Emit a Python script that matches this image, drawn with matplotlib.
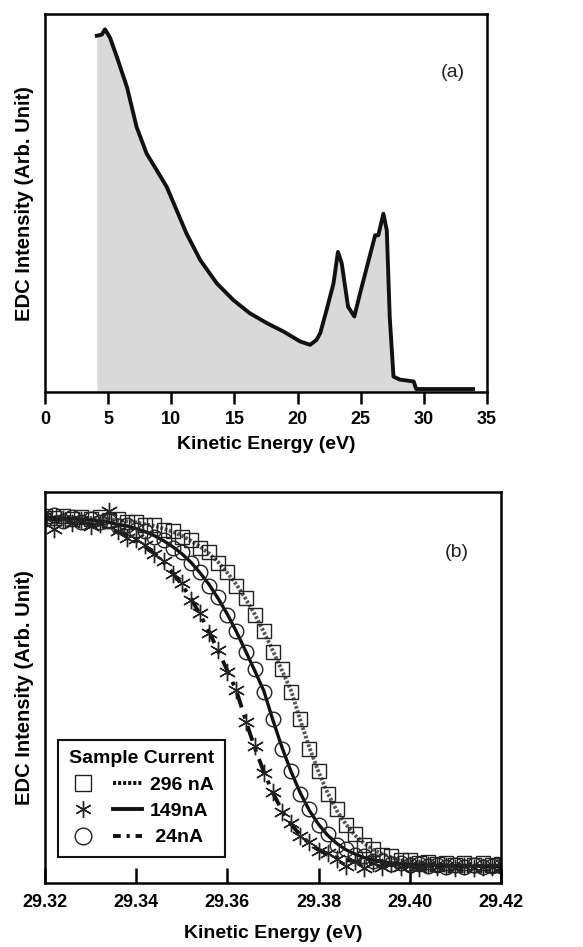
import numpy as np
import matplotlib.pyplot as plt
from matplotlib.lines import Line2D
from matplotlib.legend_handler import HandlerTuple

plt.rcParams['font.family'] = ['Liberation Sans', 'DejaVu Sans']

# ---- panel (a): full EDC spectrum ----
edc_energy = [4.1, 4.5, 4.75, 5.15, 5.7, 6.5, 7.26, 8.05, 8.85, 9.64, 10.43,
              11.2, 12.3, 13.6, 14.9, 16.2, 17.6, 18.9, 20.2, 21.0, 21.5,
              21.8, 22.3, 22.85, 23.2, 23.5, 24.0, 24.5, 24.95, 25.5, 26.15,
              26.4, 26.8, 27.07, 27.3, 27.6, 28.1, 29.2, 29.4, 33.9]
edc_intensity = [94.3, 94.6, 96.0, 93.8, 88.6, 80.6, 70.1, 63.1, 58.7, 54.3, 48.1,
                 42.0, 34.9, 28.8, 24.4, 20.9, 18.2, 16.0, 13.4, 12.5, 13.8,
                 15.6, 21.7, 28.8, 37.1, 34.1, 22.6, 20.0, 26.1, 33.2, 41.5,
                 41.5, 47.2, 42.8, 20.0, 4.1, 3.3, 2.8, 0.8, 0.8]

# ---- panel (b): Fermi edge for three sample currents ----
fermi_energy = [29.320 + 0.002 * i for i in range(51)]

sq_296 = [93.9, 93.2, 93.8, 93.1, 93.6, 93.0, 93.5, 92.8, 93.1, 92.2,
          92.4, 91.5, 91.6, 90.3, 89.9, 88.5, 87.8, 85.7, 84.5, 81.8,
          79.6, 76.0, 72.9, 68.4, 64.5, 59.0, 54.6, 48.8, 41.9, 34.3,
          28.7, 22.7, 18.8, 14.7, 12.4, 9.8, 8.7, 7.2, 6.8, 5.8,
          5.9, 5.0, 5.3, 4.8, 5.1, 4.6, 5.0, 4.7, 5.0, 4.6, 4.9]
fit_296 = [93.6, 93.6, 93.5, 93.4, 93.4, 93.3, 93.2, 93.0, 92.8, 92.5,
           92.2, 91.7, 91.3, 90.6, 89.8, 88.8, 87.5, 86.0, 84.2, 82.0,
           79.3, 76.3, 72.7, 68.7, 64.2, 59.3, 54.3, 49.1, 41.6, 34.6,
           28.4, 23.0, 18.5, 15.0, 12.2, 10.1, 8.5, 7.4, 6.5, 5.9,
           5.5, 5.1, 4.9, 4.7, 4.6, 4.5, 4.5, 4.4, 4.4, 4.4, 4.4]

star_149 = [93.9, 90.4, 93.0, 92.1, 92.9, 91.4, 91.8, 95.0, 90.0, 88.1,
            87.9, 86.3, 84.0, 82.3, 79.0, 76.6, 72.3, 69.0, 63.9, 59.6,
            54.0, 49.4, 41.2, 34.9, 28.1, 23.3, 18.2, 15.3, 11.9, 10.4,
            8.2, 7.6, 6.2, 4.3, 5.7, 3.9, 5.1, 4.2, 4.9, 4.0,
            4.6, 3.9, 4.5, 4.0, 4.4, 3.9, 4.3, 3.8, 4.2, 4.0, 4.1]
fit_149 = [93.2, 93.0, 92.8, 92.5, 92.2, 91.7, 91.3, 90.6, 89.8, 88.8,
           87.5, 86.0, 84.2, 82.0, 79.3, 76.3, 72.7, 68.7, 64.2, 59.3,
           54.3, 49.1, 41.6, 34.6, 28.4, 23.0, 18.5, 15.0, 12.2, 10.1,
           8.5, 7.4, 6.5, 5.9, 5.5, 5.1, 4.9, 4.7, 4.6, 4.5,
           4.5, 4.4, 4.4, 4.3, 4.3, 4.2, 4.2, 4.2, 4.2, 4.2, 4.2]

circ_24 = [93.1, 94.0, 92.6, 93.5, 92.4, 93.1, 92.2, 92.6, 91.4, 91.6,
           90.2, 90.1, 88.5, 87.8, 85.7, 84.5, 81.7, 79.6, 76.0, 73.0,
           68.4, 64.5, 59.0, 54.6, 48.8, 41.9, 34.3, 28.7, 22.7, 18.8,
           14.7, 12.4, 9.8, 8.7, 7.2, 6.8, 5.6, 5.7, 4.8, 5.1,
           4.5, 4.8, 4.3, 4.7, 4.2, 4.6, 4.2, 4.5, 4.2, 4.4, 4.3]
fit_24 = [93.4, 93.4, 93.3, 93.2, 93.0, 92.8, 92.5, 92.2, 91.7, 91.3,
          90.6, 89.8, 88.8, 87.5, 86.0, 84.2, 82.0, 79.3, 76.3, 72.7,
          68.7, 64.2, 59.3, 54.3, 49.1, 41.6, 34.6, 28.4, 23.0, 18.5,
          15.0, 12.2, 10.1, 8.5, 7.4, 6.5, 5.9, 5.5, 5.1, 4.9,
          4.7, 4.6, 4.5, 4.5, 4.4, 4.4, 4.4, 4.3, 4.3, 4.3, 4.3]

legend_labels = ['296 nA', '149nA', ' 24nA']

fig = plt.figure(figsize=(5.83, 9.47), dpi=100)
xbold = dict(fontsize=14, fontweight='bold')
ybold = dict(fontsize=14.5, fontweight='bold')

# panel (a)
ax1 = fig.add_axes([0.0772, 0.586, 0.758, 0.399])
ax1.fill_between(edc_energy, edc_intensity, 0, color='#d9d9d9', lw=0)
ax1.plot(edc_energy, edc_intensity, color='#111111', lw=2.8)
ax1.set_xlim(0, 35)
ax1.set_ylim(0, 100)
ax1.set_xticks(np.arange(0, 36, 5))
ax1.set_yticks([])
ax1.tick_params(axis='x', direction='out', length=8.5, width=1.8, labelsize=13, pad=5)
for lab in ax1.get_xticklabels():
    lab.set_fontweight('bold')
for s in ax1.spines.values():
    s.set_linewidth(1.8)
ax1.set_xlabel('Kinetic Energy (eV)', labelpad=6, **xbold)
ax1.set_ylabel('EDC Intensity (Arb. Unit)', labelpad=8, **ybold)
ax1.text(0.923, 0.845, '(a)', transform=ax1.transAxes, fontsize=14,
         ha='center', va='center', color='#222222')

# panel (b)
ax2 = fig.add_axes([0.0772, 0.0676, 0.782, 0.413])
mk = dict(mfc='none', mec='#222222', mew=1.0, ls='none')
ax2.plot(fermi_energy, fit_296, color='0.35', lw=2.8, ls=(0, (0.7, 0.45)))
ax2.plot(fermi_energy, fit_24, color='#111111', lw=2.4, ls='-')
ax2.plot(fermi_energy, fit_149, color='#111111', lw=2.8, ls=(0, (4, 2, 1, 2)))
ax2.plot(fermi_energy, sq_296, marker='s', ms=10, **mk)
ax2.plot(fermi_energy, circ_24, marker='o', ms=10.5, **mk)
ax2.plot(fermi_energy, star_149, marker=(6, 2, 0), ms=12.5, **mk)
ax2.set_xlim(29.32, 29.42)
ax2.set_ylim(0, 100)
ax2.set_xticks(np.arange(29.32, 29.421, 0.02))
ax2.set_xticklabels(['29.32', '29.34', '29.36', '29.38', '29.40', '29.42'])
ax2.set_yticks([])
ax2.tick_params(axis='x', direction='in', length=11, width=1.8, labelsize=13, pad=8)
for lab in ax2.get_xticklabels():
    lab.set_fontweight('bold')
for s in ax2.spines.values():
    s.set_linewidth(1.8)
ax2.set_xlabel('Kinetic Energy (eV)', labelpad=10, **xbold)
ax2.set_ylabel('EDC Intensity (Arb. Unit)', labelpad=8, **ybold)
ax2.text(0.903, 0.845, '(b)', transform=ax2.transAxes, fontsize=14,
         ha='center', va='center', color='#222222')

mk_leg = dict(mfc='none', mec='#222222', mew=1.0, ms=12, ls='none')
handles = [
    (Line2D([], [], marker='s', **mk_leg), Line2D([], [], color='#111111', lw=2.8, ls=(0, (0.8, 0.5)))),
    (Line2D([], [], marker=(6, 2, 0), **mk_leg), Line2D([], [], color='#111111', lw=2.8)),
    (Line2D([], [], marker='o', **mk_leg), Line2D([], [], color='#111111', lw=2.8, ls=(0, (2, 1.5, 0.8, 1.5)))),
]
leg = ax2.legend(handles, legend_labels, handler_map={tuple: HandlerTuple(ndivide=None, pad=0.8)},
                 title='Sample Current', loc='lower left', bbox_to_anchor=(0.028, 0.066),
                 handlelength=3.8, handletextpad=0.4, labelspacing=0.45,
                 fancybox=False, framealpha=1, edgecolor='#111111',
                 prop=dict(size=14, weight='bold'), title_fontproperties=dict(size=14, weight='bold'),
                 borderaxespad=0, borderpad=0.55)
leg.get_frame().set_linewidth(1.5)

fig.savefig('out.png', dpi=100)
